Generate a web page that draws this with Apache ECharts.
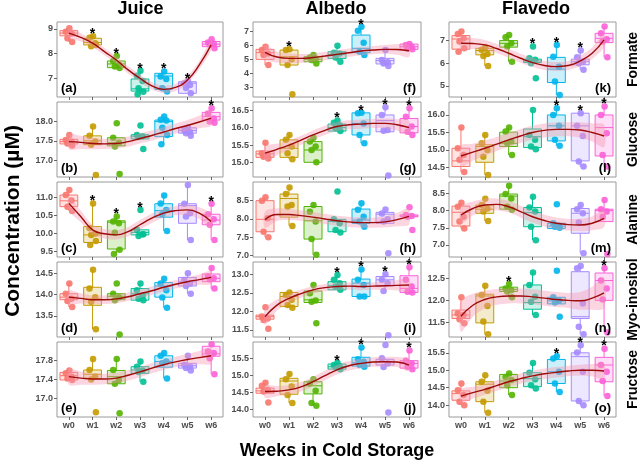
<!DOCTYPE html>
<html><head><meta charset="utf-8">
<script src="https://cdn.jsdelivr.net/npm/echarts@6/dist/echarts.min.js"></script>
<style>html,body{margin:0;padding:0;background:#fff}#c{width:642px;height:462px}</style>
</head><body><div id="c"></div>
<script>
const weeks = ['w0','w1','w2','w3','w4','w5','w6'];
const weekColors = ['#F8766D','#C49A00','#53B400','#00C094','#00B6EB','#A58AFF','#FB61D7'];
const columnTitles = ['Juice','Albedo','Flavedo'];
const rowTitles = ['Formate','Glucose','Alanine','Myo-inositol','Fructose'];
const trendX = [0,0.5,1,1.5,2,2.5,3,3.5,4,4.5,5,5.5,6];

// (a) Juice / Formate
const a_range = [6.24, 9.28];
const a_ticks = [7, 8, 9];
const a_points = [[9.03,8.88,8.82,8.62,8.47],[8.70,8.64,8.42,8.30,8.35],[7.90,7.70,7.55,7.48,7.42],[7.30,7.10,6.89,6.59,6.45,6.35],[7.27,7.07,6.97,6.59,6.46],[6.90,6.80,6.73,6.60,6.39],[8.58,8.45,8.40,8.37,8.22]];
const a_boxes = [[8.47,8.72,8.83,8.93,9.03],[8.30,8.35,8.45,8.62,8.70],[7.42,7.43,7.58,7.70,7.90],[6.35,6.48,6.57,6.97,7.30],[6.46,6.55,7.09,7.20,7.27],[6.39,6.39,6.80,6.86,6.90],[8.22,8.28,8.38,8.49,8.58]];
const a_trend = [8.83,8.66,8.42,8.08,7.74,7.34,7.00,6.69,6.55,6.63,6.93,7.54,8.35];
const a_band = [0.2,0.16,0.15,0.15,0.15,0.15,0.15,0.15,0.15,0.15,0.15,0.17,0.2];
const a_stars = [1,2,3,4,5];

// (b) Juice / Glucose
const b_range = [16.56, 18.51];
const b_ticks = [17.0, 17.5, 18.0];
const b_points = [[17.65,17.52,17.48,17.43,17.38],[17.87,17.63,17.48,17.40,16.61],[17.96,17.58,17.45,17.35,16.64],[17.90,17.65,17.62,17.60,17.29],[18.13,18.05,18.03,17.84,17.65,17.41],[17.85,17.77,17.73,17.70,17.63],[18.35,18.21,18.08,18.00,17.97]];
const b_boxes = [[17.38,17.42,17.48,17.54,17.65],[17.40,17.40,17.50,17.63,17.87],[17.35,17.37,17.45,17.58,17.58],[17.54,17.55,17.62,17.66,17.68],[17.41,17.61,18.00,18.04,18.13],[17.63,17.70,17.77,17.84,17.85],[17.97,18.04,18.13,18.24,18.35]];
const b_trend = [17.48,17.46,17.43,17.42,17.43,17.48,17.56,17.64,17.73,17.82,17.90,17.99,18.09];
const b_band = [0.2,0.17,0.15,0.13,0.13,0.13,0.13,0.13,0.13,0.13,0.14,0.16,0.19];
const b_stars = [6];

// (c) Juice / Alanine
const c_range = [9.35, 11.42];
const c_ticks = [9.5, 10.0, 10.5, 11.0];
const c_points = [[11.20,11.06,10.91,10.74,10.62],[10.83,10.15,10.00,9.96,9.79,9.68],[10.47,10.33,10.28,10.02,9.55,9.43],[10.65,10.10,9.98,9.93,9.98],[11.05,10.83,10.65,10.53,10.07],[11.34,10.82,10.56,10.47,9.82],[10.82,10.53,10.39,10.24,9.82]];
const c_boxes = [[10.62,10.74,10.90,11.06,11.20],[9.68,9.75,9.96,10.19,10.83],[9.43,9.57,10.31,10.35,10.47],[9.93,9.96,10.03,10.10,10.10],[10.07,10.45,10.63,10.82,11.05],[9.82,10.28,10.77,10.82,11.34],[9.82,10.24,10.37,10.53,10.82]];
const c_trend = [10.83,10.47,10.10,9.99,9.96,10.05,10.24,10.42,10.56,10.63,10.65,10.56,10.33];
const c_band = [0.2,0.16,0.14,0.13,0.13,0.13,0.13,0.13,0.13,0.13,0.14,0.16,0.2];
const c_stars = [1,2,3,6];

// (d) Juice / Myo-inositol
const d_range = [13.01, 14.76];
const d_ticks = [13.5, 14.0, 14.5];
const d_points = [[14.26,14.02,13.90,13.85,13.71],[14.58,14.14,13.94,13.83,13.19],[14.26,14.02,13.94,13.87,13.07],[14.26,14.10,13.98,13.90,13.87],[14.37,14.26,14.10,13.93,13.69],[14.50,14.34,14.26,14.20,14.02],[14.62,14.42,14.38,14.36,14.14]];
const d_boxes = [[13.71,13.88,13.94,14.02,14.26],[13.19,13.75,13.90,14.17,14.58],[13.88,13.88,13.96,14.02,14.02],[13.87,13.87,14.02,14.14,14.26],[13.69,13.94,14.20,14.28,14.37],[14.02,14.20,14.30,14.40,14.50],[14.14,14.30,14.38,14.48,14.62]];
const d_trend = [13.94,13.91,13.88,13.88,13.90,13.95,14.02,14.09,14.17,14.24,14.30,14.35,14.40];
const d_band = [0.15,0.12,0.1,0.1,0.1,0.1,0.1,0.1,0.1,0.1,0.1,0.12,0.15];
const d_stars = [];

// (e) Juice / Fructose
const e_range = [16.61, 18.19];
const e_ticks = [17.0, 17.4, 17.8];
const e_points = [[17.59,17.53,17.46,17.42,17.39],[17.83,17.60,17.46,17.40,16.71],[17.83,17.60,17.39,17.31,16.69],[17.78,17.67,17.59,17.56,17.35],[17.96,17.90,17.78,17.74,17.42],[17.90,17.71,17.67,17.64,17.59],[18.14,17.99,17.96,17.85,17.51]];
const e_boxes = [[17.39,17.39,17.48,17.55,17.59],[17.40,17.42,17.51,17.60,17.83],[17.31,17.31,17.46,17.59,17.83],[17.35,17.53,17.60,17.67,17.78],[17.42,17.66,17.78,17.90,17.96],[17.59,17.64,17.69,17.74,17.90],[17.51,17.89,17.94,18.10,18.14]];
const e_trend = [17.46,17.43,17.41,17.41,17.43,17.49,17.56,17.64,17.71,17.77,17.82,17.86,17.90];
const e_band = [0.17,0.14,0.12,0.11,0.11,0.11,0.11,0.11,0.11,0.11,0.12,0.14,0.17];
const e_stars = [];

// (f) Albedo / Formate
const f_range = [2.30, 7.70];
const f_ticks = [3, 4, 5, 6, 7];
const f_points = [[5.92,5.68,5.44,5.32,4.60],[5.73,5.68,5.01,4.60,2.50],[5.32,5.15,5.08,4.96,4.72],[5.99,5.49,5.44,5.15,4.84],[7.36,7.07,6.21,5.56,5.32],[5.68,4.96,4.80,4.72,4.53],[6.11,6.04,5.92,5.80,5.73]];
const f_boxes = [[4.60,5.01,5.49,5.73,5.92],[4.60,4.60,5.20,5.68,5.73],[4.72,4.84,5.01,5.20,5.32],[4.84,5.08,5.37,5.56,5.99],[5.32,5.49,5.80,6.76,7.36],[4.53,4.68,4.92,5.08,5.68],[5.73,5.73,5.92,6.11,6.11]];
const f_trend = [5.52,5.18,5.08,5.08,5.14,5.25,5.37,5.49,5.61,5.68,5.73,5.72,5.63];
const f_band = [0.5,0.4,0.35,0.32,0.3,0.3,0.3,0.3,0.3,0.3,0.32,0.38,0.45];
const f_stars = [1,4];

// (g) Albedo / Glucose
const g_range = [14.59, 16.73];
const g_ticks = [15.0, 15.5, 16.0, 16.5];
const g_points = [[15.57,15.27,15.22,15.17,15.12],[15.79,15.65,15.46,15.27,15.10],[15.71,15.60,15.46,15.36,15.01],[16.20,16.14,16.07,15.98,15.90],[16.42,16.41,16.12,15.79,15.55],[16.58,16.36,15.93,15.91,14.63],[16.55,16.31,16.03,15.88,15.79]];
const g_boxes = [[15.12,15.15,15.25,15.33,15.57],[15.10,15.15,15.41,15.65,15.79],[15.01,15.01,15.36,15.60,15.71],[15.90,15.90,16.00,16.10,16.20],[15.55,15.79,16.12,16.42,16.42],[15.88,15.88,16.20,16.36,16.58],[15.79,15.85,16.03,16.26,16.55]];
const g_trend = [15.27,15.38,15.50,15.64,15.79,15.92,16.03,16.08,16.10,16.12,16.12,16.08,16.00];
const g_band = [0.2,0.16,0.14,0.13,0.13,0.13,0.13,0.13,0.13,0.13,0.14,0.16,0.2];
const g_stars = [3,4,5,6];

// (h) Albedo / Alanine
const h_range = [6.96, 9.01];
const h_ticks = [7.0, 7.5, 8.0, 8.5];
const h_points = [[8.59,8.50,8.02,7.65,7.50],[8.86,8.68,8.38,8.34,7.81],[8.38,8.20,7.93,7.45,7.02],[8.75,7.99,7.88,7.70,7.63],[8.43,8.25,8.06,7.93,7.79],[8.26,8.15,7.99,7.93,7.06],[8.32,8.11,8.08,8.06,7.70]];
const h_boxes = [[7.50,7.65,7.99,8.50,8.59],[7.81,8.05,8.56,8.68,8.86],[7.02,7.45,7.95,8.34,8.38],[7.63,7.65,7.93,7.99,7.99],[7.79,7.88,7.97,8.27,8.43],[7.88,7.88,8.13,8.18,8.26],[8.06,8.06,8.08,8.11,8.11]];
const h_trend = [7.98,8.12,8.12,8.09,8.05,8.00,7.95,7.92,7.90,7.90,7.92,7.98,8.07];
const h_band = [0.22,0.17,0.15,0.14,0.14,0.14,0.14,0.14,0.14,0.14,0.15,0.18,0.22];
const h_stars = [];

// (i) Albedo / Myo-inositol
const i_range = [11.31, 13.33];
const i_ticks = [11.5, 12.0, 12.5, 13.0];
const i_points = [[12.11,11.86,11.81,11.77,11.53],[12.51,12.44,12.31,12.17,12.10],[12.71,12.49,12.29,12.26,11.68],[12.98,12.85,12.76,12.67,12.58],[13.13,12.85,12.71,12.40,12.40],[13.00,12.85,12.76,12.55,11.36],[13.19,12.85,12.67,12.53,12.51]];
const i_boxes = [[11.79,11.79,11.86,11.90,11.90],[12.10,12.13,12.40,12.51,12.51],[12.24,12.24,12.31,12.55,12.71],[12.58,12.58,12.69,12.80,12.98],[12.40,12.40,12.76,12.87,13.13],[12.55,12.69,12.85,12.94,13.00],[12.51,12.51,12.62,12.96,13.19]];
const i_trend = [11.86,12.17,12.35,12.48,12.58,12.64,12.67,12.68,12.67,12.68,12.69,12.70,12.71];
const i_band = [0.22,0.15,0.12,0.11,0.1,0.1,0.1,0.1,0.1,0.1,0.11,0.14,0.18];
const i_stars = [3,4,5,6];

// (j) Albedo / Fructose
const j_range = [13.77, 15.98];
const j_ticks = [14.0, 14.5, 15.0, 15.5];
const j_points = [[14.78,14.69,14.57,14.52,14.20],[15.04,14.88,14.67,14.42,14.18],[14.88,14.76,14.54,14.18,14.10],[15.37,15.30,15.27,15.24,15.18],[15.82,15.47,15.40,15.30,15.25],[15.89,15.50,15.35,15.24,13.90],[15.73,15.43,15.35,15.25,15.18]];
const j_boxes = [[14.47,14.47,14.54,14.62,14.78],[14.18,14.44,14.83,14.91,15.04],[14.10,14.45,14.69,14.81,14.88],[15.18,15.18,15.25,15.33,15.37],[15.25,15.27,15.37,15.53,15.82],[15.24,15.30,15.40,15.47,15.50],[15.18,15.21,15.35,15.43,15.73]];
const j_trend = [14.52,14.53,14.57,14.66,14.81,14.99,15.16,15.28,15.35,15.39,15.40,15.39,15.30];
const j_band = [0.18,0.15,0.14,0.14,0.14,0.14,0.14,0.14,0.14,0.14,0.14,0.15,0.18];
const j_stars = [3,4,6];

// (k) Flavedo / Formate
const k_range = [4.51, 7.82];
const k_ticks = [5, 6, 7];
const k_points = [[7.40,7.29,7.10,6.96,6.66,6.51],[6.71,6.59,6.41,6.32,5.88],[7.25,7.15,6.88,6.74,6.07],[6.74,6.22,6.15,6.00,5.34],[6.81,6.29,5.85,5.19,4.60],[6.56,6.26,6.07,6.00,5.71],[7.62,7.32,7.06,6.96,6.26]];
const k_boxes = [[6.51,6.62,7.07,7.22,7.40],[5.88,6.37,6.56,6.66,6.71],[6.07,6.71,6.88,7.00,7.25],[6.00,6.03,6.10,6.18,6.22],[4.60,5.15,5.74,6.26,6.81],[5.71,5.93,6.07,6.18,6.56],[6.26,6.91,7.10,7.32,7.62]];
const k_trend = [6.88,6.87,6.81,6.65,6.44,6.22,6.03,5.90,5.85,5.90,6.10,6.44,7.03];
const k_band = [0.3,0.24,0.22,0.2,0.2,0.2,0.2,0.2,0.2,0.2,0.22,0.25,0.3];
const k_stars = [3,4,5];

// (l) Flavedo / Glucose
const l_range = [14.23, 16.37];
const l_ticks = [14.5, 15.0, 15.5, 16.0];
const l_points = [[15.64,15.05,14.86,14.72,14.37],[15.43,15.19,15.00,14.81,14.29],[15.64,15.53,15.24,15.19,14.86],[16.14,15.43,15.29,15.10,15.02],[16.19,16.00,15.69,15.29,15.12],[16.05,15.69,15.40,14.67,14.53],[16.24,16.00,15.48,14.86,14.53]];
const l_boxes = [[14.37,14.53,14.69,15.05,15.64],[14.29,14.65,15.10,15.15,15.43],[14.86,15.10,15.19,15.51,15.64],[15.02,15.07,15.38,15.60,16.14],[15.12,15.26,15.69,16.00,16.19],[14.53,14.69,15.69,16.05,16.05],[14.53,14.83,15.64,16.00,16.24]];
const l_trend = [14.83,14.94,15.05,15.17,15.29,15.40,15.50,15.56,15.59,15.59,15.57,15.50,15.40];
const l_band = [0.3,0.24,0.22,0.2,0.2,0.2,0.2,0.2,0.2,0.2,0.22,0.26,0.32];
const l_stars = [4,5,6];

// (m) Flavedo / Alanine
const m_range = [6.65, 8.83];
const m_ticks = [7.0, 7.5, 8.0, 8.5];
const m_points = [[8.23,8.11,7.82,7.68,7.48],[8.34,8.16,8.06,7.97,7.70],[8.72,8.48,8.35,8.11,8.02],[8.40,8.09,7.97,7.53,7.14],[8.18,7.63,7.56,7.53,7.50],[8.16,8.04,7.92,7.65,6.76],[8.31,8.04,7.97,7.82,6.74]];
const m_boxes = [[7.48,7.55,7.95,8.13,8.23],[7.70,7.92,8.04,8.16,8.34],[8.02,8.04,8.42,8.48,8.72],[7.14,7.53,7.94,8.09,8.40],[7.48,7.48,7.55,7.63,7.63],[6.76,7.34,7.92,8.06,8.16],[7.68,7.68,8.00,8.04,8.31]];
const m_trend = [7.87,8.06,8.16,8.18,8.11,7.97,7.82,7.71,7.63,7.59,7.58,7.63,7.77];
const m_band = [0.25,0.2,0.18,0.17,0.17,0.17,0.17,0.17,0.17,0.17,0.18,0.2,0.25];
const m_stars = [];

// (n) Flavedo / Myo-inositol
const n_range = [11.17, 12.87];
const n_ticks = [11.5, 12.0, 12.5];
const n_points = [[12.07,11.70,11.67,11.57,11.48],[12.33,12.12,11.87,11.52,11.23],[12.37,12.27,12.23,12.20,12.07],[12.63,12.35,12.08,11.97,11.67],[12.67,12.07,11.99,11.95,11.63],[12.78,12.73,11.93,11.40,11.23],[12.73,12.45,12.27,12.02,11.27]];
const n_boxes = [[11.48,11.59,11.67,11.78,12.07],[11.23,11.49,12.10,12.14,12.33],[12.07,12.20,12.25,12.30,12.37],[11.67,11.80,11.95,12.35,12.63],[11.92,11.92,11.99,12.07,12.07],[11.23,11.59,11.63,12.65,12.78],[11.27,12.00,12.45,12.62,12.73]];
const n_trend = [11.64,11.89,12.02,12.08,12.10,12.10,12.08,12.05,12.02,12.00,11.99,12.05,12.17];
const n_band = [0.35,0.26,0.2,0.18,0.17,0.17,0.17,0.17,0.17,0.17,0.2,0.26,0.35];
const n_stars = [2,6];

// (o) Flavedo / Fructose
const o_range = [13.66, 15.81];
const o_ticks = [14.0, 14.5, 15.0, 15.5];
const o_points = [[14.62,14.43,14.29,14.10,14.00],[14.86,14.67,14.41,14.10,13.78],[14.91,14.81,14.72,14.57,14.29],[15.21,14.93,14.74,14.57,14.48],[15.40,15.34,14.96,14.62,14.38],[15.72,15.51,14.96,14.12,14.00],[15.62,15.15,14.96,14.69,14.26]];
const o_boxes = [[14.00,14.14,14.33,14.41,14.62],[13.78,14.10,14.60,14.67,14.86],[14.29,14.50,14.69,14.88,14.91],[14.48,14.53,14.76,14.93,15.21],[14.38,14.62,14.96,15.31,15.40],[14.00,14.12,15.39,15.50,15.72],[14.26,14.67,15.15,15.37,15.62]];
const o_trend = [14.26,14.36,14.45,14.56,14.67,14.76,14.84,14.90,14.94,14.98,15.00,15.00,14.98];
const o_band = [0.2,0.17,0.15,0.15,0.15,0.15,0.15,0.15,0.15,0.15,0.16,0.18,0.22];
const o_stars = [4,5,6];

const panels = [
  {id:'a',range:a_range,ticks:a_ticks,points:a_points,boxes:a_boxes,trend:a_trend,band:a_band,stars:a_stars},
  {id:'b',range:b_range,ticks:b_ticks,points:b_points,boxes:b_boxes,trend:b_trend,band:b_band,stars:b_stars},
  {id:'c',range:c_range,ticks:c_ticks,points:c_points,boxes:c_boxes,trend:c_trend,band:c_band,stars:c_stars},
  {id:'d',range:d_range,ticks:d_ticks,points:d_points,boxes:d_boxes,trend:d_trend,band:d_band,stars:d_stars},
  {id:'e',range:e_range,ticks:e_ticks,points:e_points,boxes:e_boxes,trend:e_trend,band:e_band,stars:e_stars},
  {id:'f',range:f_range,ticks:f_ticks,points:f_points,boxes:f_boxes,trend:f_trend,band:f_band,stars:f_stars},
  {id:'g',range:g_range,ticks:g_ticks,points:g_points,boxes:g_boxes,trend:g_trend,band:g_band,stars:g_stars},
  {id:'h',range:h_range,ticks:h_ticks,points:h_points,boxes:h_boxes,trend:h_trend,band:h_band,stars:h_stars},
  {id:'i',range:i_range,ticks:i_ticks,points:i_points,boxes:i_boxes,trend:i_trend,band:i_band,stars:i_stars},
  {id:'j',range:j_range,ticks:j_ticks,points:j_points,boxes:j_boxes,trend:j_trend,band:j_band,stars:j_stars},
  {id:'k',range:k_range,ticks:k_ticks,points:k_points,boxes:k_boxes,trend:k_trend,band:k_band,stars:k_stars},
  {id:'l',range:l_range,ticks:l_ticks,points:l_points,boxes:l_boxes,trend:l_trend,band:l_band,stars:l_stars},
  {id:'m',range:m_range,ticks:m_ticks,points:m_points,boxes:m_boxes,trend:m_trend,band:m_band,stars:m_stars},
  {id:'n',range:n_range,ticks:n_ticks,points:n_points,boxes:n_boxes,trend:n_trend,band:n_band,stars:n_stars},
  {id:'o',range:o_range,ticks:o_ticks,points:o_points,boxes:o_boxes,trend:o_trend,band:o_band,stars:o_stars}
];

// layout (pixels)
const colLeft = [57, 253, 449];
const colWidth = [166, 168, 167];
const rowTop = [22, 102, 182, 262, 342];
const panelH = 75;
const JIT = [0.02, -0.13, 0.11, -0.06, 0.14, -0.1];
const FONT = '"Liberation Sans", Arial, Helvetica, sans-serif';
const weekIdx = [0,1,2,3,4,5,6];

function rgba(hex, a) {
  const n = parseInt(hex.slice(1), 16);
  return 'rgba(' + (n >> 16 & 255) + ',' + (n >> 8 & 255) + ',' + (n & 255) + ',' + a + ')';
}

const grids = [], xAxes = [], yAxes = [], series = [], graphics = [];

panels.forEach((p, idx) => {
  const c = Math.floor(idx / 5), r = idx % 5;
  grids.push({left: colLeft[c], top: rowTop[r], width: colWidth[c], height: panelH,
    show: true, borderColor: '#9a9a9a', borderWidth: 1, backgroundColor: '#fff'});
  xAxes.push({gridIndex: idx, type: 'value', min: -0.5, max: 6.5, position: 'bottom',
    splitLine: {show: false}, axisLine: {show: false, onZero: false},
    axisTick: {show: true, inside: false, length: 3, customValues: weekIdx, lineStyle: {color: '#666'}},
    axisLabel: {show: r === 4, customValues: weekIdx, formatter: v => weeks[Math.round(v)],
      margin: 4, fontSize: 9, fontWeight: 'bold', color: '#4d4d4d', fontFamily: FONT}});
  const dec = p.ticks.every(t => Number.isInteger(t)) ? 0 : 1;
  yAxes.push({gridIndex: idx, type: 'value', min: p.range[0], max: p.range[1], position: 'left',
    splitLine: {show: false}, axisLine: {show: false, onZero: false},
    axisTick: {show: true, inside: false, length: 3, customValues: p.ticks, lineStyle: {color: '#666'}},
    axisLabel: {customValues: p.ticks, formatter: v => v.toFixed(dec), margin: 4,
      fontSize: 9, fontWeight: 'bold', color: '#4d4d4d', fontFamily: FONT}});

  // boxes
  series.push({type: 'custom', xAxisIndex: idx, yAxisIndex: idx, z: 2, silent: true,
    data: p.boxes.map((b, i) => [i].concat(b)),
    renderItem: (params, api) => {
      const i = api.value(0);
      const cx = api.coord([i, p.range[0]])[0];
      const Y = k => api.coord([i, api.value(k)])[1];
      const lo = Y(1), q1 = Y(2), md = Y(3), q3 = Y(4), hi = Y(5);
      const hw = api.size([0.75, 0])[0] / 2;
      const col = weekColors[i];
      return {type: 'group', children: [
        {type: 'line', shape: {x1: cx, y1: lo, x2: cx, y2: q1}, style: {stroke: col, lineWidth: 1}},
        {type: 'line', shape: {x1: cx, y1: q3, x2: cx, y2: hi}, style: {stroke: col, lineWidth: 1}},
        {type: 'rect', shape: {x: cx - hw, y: q3, width: 2 * hw, height: Math.max(q1 - q3, 1)},
          style: {fill: rgba(col, 0.2), stroke: col, lineWidth: 1}},
        {type: 'line', shape: {x1: cx - hw, y1: md, x2: cx + hw, y2: md}, style: {stroke: col, lineWidth: 1}}
      ]};
    }});

  // jittered points
  const pts = [];
  p.points.forEach((vals, i) => vals.forEach((v, j) => pts.push([i + JIT[j % JIT.length], v, i])));
  series.push({type: 'scatter', xAxisIndex: idx, yAxisIndex: idx, z: 3, silent: true,
    symbolSize: 6.5, data: pts,
    itemStyle: {color: prm => weekColors[prm.value[2]], opacity: 0.9}});

  // confidence band
  series.push({type: 'custom', xAxisIndex: idx, yAxisIndex: idx, z: 4, silent: true,
    data: [[0, p.trend[0]]],
    renderItem: (params, api) => {
      const up = trendX.map((x, k) => api.coord([x, p.trend[k] + p.band[k]]));
      const dn = trendX.map((x, k) => api.coord([x, p.trend[k] - p.band[k]])).reverse();
      return {type: 'polygon', shape: {points: up.concat(dn), smooth: 0.3},
        style: {fill: 'rgba(244,150,175,0.40)'}};
    }});

  // trend line
  series.push({type: 'line', xAxisIndex: idx, yAxisIndex: idx, z: 5, silent: true,
    data: trendX.map((x, k) => [x, p.trend[k]]), smooth: 0.5, showSymbol: false, symbol: 'none',
    lineStyle: {color: '#9e0b0b', width: 1.4}});

  // significance stars
  series.push({type: 'custom', xAxisIndex: idx, yAxisIndex: idx, z: 6, silent: true,
    data: p.stars.map(i => [i, Math.max.apply(null, p.points[i])]),
    renderItem: (params, api) => {
      const pt = api.coord([api.value(0), api.value(1)]);
      return {type: 'text', x: pt[0], y: pt[1] - 2,
        style: {text: '*', fill: '#000', font: 'bold 14px ' + FONT,
          align: 'center', verticalAlign: 'middle', textAlign: 'center', textVerticalAlign: 'middle'}};
    }});

  // panel label
  const labelY = rowTop[r] + panelH - 9;
  if (c === 0) {
    graphics.push({type: 'text', x: colLeft[c] + 4, y: labelY, z: 100,
      style: {text: '(' + p.id + ')', fill: '#000', font: 'bold 13px ' + FONT,
        align: 'left', verticalAlign: 'middle', textAlign: 'left', textVerticalAlign: 'middle'}});
  } else {
    graphics.push({type: 'text', x: colLeft[c] + colWidth[c] - 5, y: labelY, z: 100,
      style: {text: '(' + p.id + ')', fill: '#000', font: 'bold 13px ' + FONT,
        align: 'right', verticalAlign: 'middle', textAlign: 'right', textVerticalAlign: 'middle'}});
  }
});

const titleX = [140.5, 336, 536];
columnTitles.forEach((t, c) => graphics.push({type: 'text', x: titleX[c], y: 9,
  style: {text: t, fill: '#000', font: 'bold 18px ' + FONT,
    align: 'center', verticalAlign: 'middle', textAlign: 'center', textVerticalAlign: 'middle'}}));
rowTitles.forEach((t, r) => graphics.push({type: 'text', x: 633, y: rowTop[r] + panelH / 2, rotation: Math.PI / 2,
  style: {text: t, fill: '#000', font: 'bold 14px ' + FONT,
    align: 'center', verticalAlign: 'middle', textAlign: 'center', textVerticalAlign: 'middle'}}));
graphics.push({type: 'text', x: 13, y: 221, rotation: Math.PI / 2,
  style: {text: 'Concentration (µM)', fill: '#000', font: 'bold 21px ' + FONT,
    align: 'center', verticalAlign: 'middle', textAlign: 'center', textVerticalAlign: 'middle'}});
graphics.push({type: 'text', x: 337, y: 451,
  style: {text: 'Weeks in Cold Storage', fill: '#000', font: 'bold 18px ' + FONT,
    align: 'center', verticalAlign: 'middle', textAlign: 'center', textVerticalAlign: 'middle'}});

const chart = echarts.init(document.getElementById('c'), null, {renderer: 'canvas'});
chart.setOption({
  animation: false,
  backgroundColor: '#fff',
  grid: grids, xAxis: xAxes, yAxis: yAxes, series: series, graphic: graphics
});
</script></body></html>
